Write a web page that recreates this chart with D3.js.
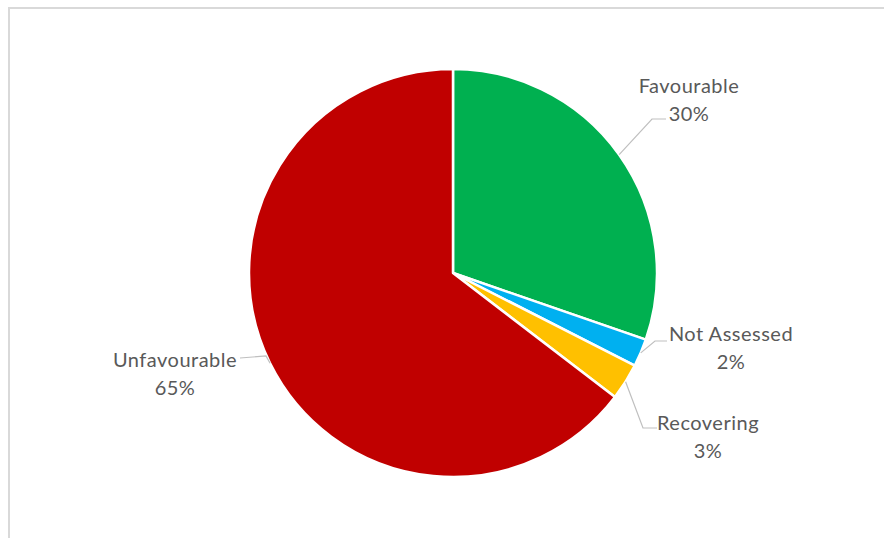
<!DOCTYPE html>
<html>
<head>
<meta charset="utf-8">
<script src="https://cdn.jsdelivr.net/npm/d3@7"></script>
<style>
html,body{margin:0;padding:0;background:#fff;}
svg{display:block;}
</style>
</head>
<body>
<svg id="chart" width="884" height="538"></svg>
<script>
// ---- data ----
const categories = ["Favourable", "Not Assessed", "Recovering", "Unfavourable"];
const values = [30.3, 2.2, 2.9, 64.6];
const percentLabels = ["30%", "2%", "3%", "65%"];
const colors = ["#00b050", "#00b0f0", "#ffc000", "#c00000"];

// ---- layout (label placement, not data) ----
const labelLayout = [
  {elbow: [652, 119], end: [666, 119], text: [689, 93]},
  {elbow: [655, 341], end: [667, 341], text: [731, 341]},
  {elbow: [643, 428], end: [657, 428], text: [708, 430]},
  {elbow: [266, 356], end: [240, 358], text: [175, 367]}
];

const svg = d3.select("#chart");
// chart frame (left and top visible)
svg.append("rect").attr("x", 9).attr("y", 8).attr("width", 900).attr("height", 560)
  .attr("fill", "#fff").attr("stroke", "#d9d9d9").attr("stroke-width", 2);

const cx = 453, cy = 273, r = 204;
const g = svg.append("g").attr("transform", `translate(${cx},${cy})`);

const data = categories.map((c, i) => ({cat: c, value: values[i], pct: percentLabels[i], color: colors[i], i}));
const pie = d3.pie().value(d => d.value).sort(null);
const arcs = pie(data);
const arc = d3.arc().innerRadius(0).outerRadius(r);

g.selectAll("path.slice").data(arcs).enter().append("path")
  .attr("class", "slice")
  .attr("d", arc)
  .attr("fill", d => d.data.color)
  .attr("stroke", "#fff").attr("stroke-width", 2.5).attr("stroke-linejoin", "round");

// leader lines
const edge = d3.arc().innerRadius(r).outerRadius(r);
arcs.forEach((a, i) => {
  const p = edge.centroid(a);
  const L = labelLayout[i];
  const pts = [[p[0] + cx, p[1] + cy], L.elbow, L.end];
  svg.append("polyline")
    .attr("points", pts.map(q => q.join(",")).join(" "))
    .attr("fill", "none").attr("stroke", "#bfbfbf").attr("stroke-width", 1.2);
});

// labels
arcs.forEach((a, i) => {
  const L = labelLayout[i];
  const t = svg.append("text")
    .attr("x", L.text[0]).attr("y", L.text[1])
    .attr("text-anchor", "middle")
    .attr("font-family", "Lato, 'Open Sans', sans-serif")
    .attr("font-size", 20)
    .attr("letter-spacing", 0.5)
    .attr("fill", "#595959");
  t.append("tspan").attr("x", L.text[0]).text(a.data.cat);
  t.append("tspan").attr("x", L.text[0]).attr("dy", 27.5).text(a.data.pct);
});
</script>
</body>
</html>
